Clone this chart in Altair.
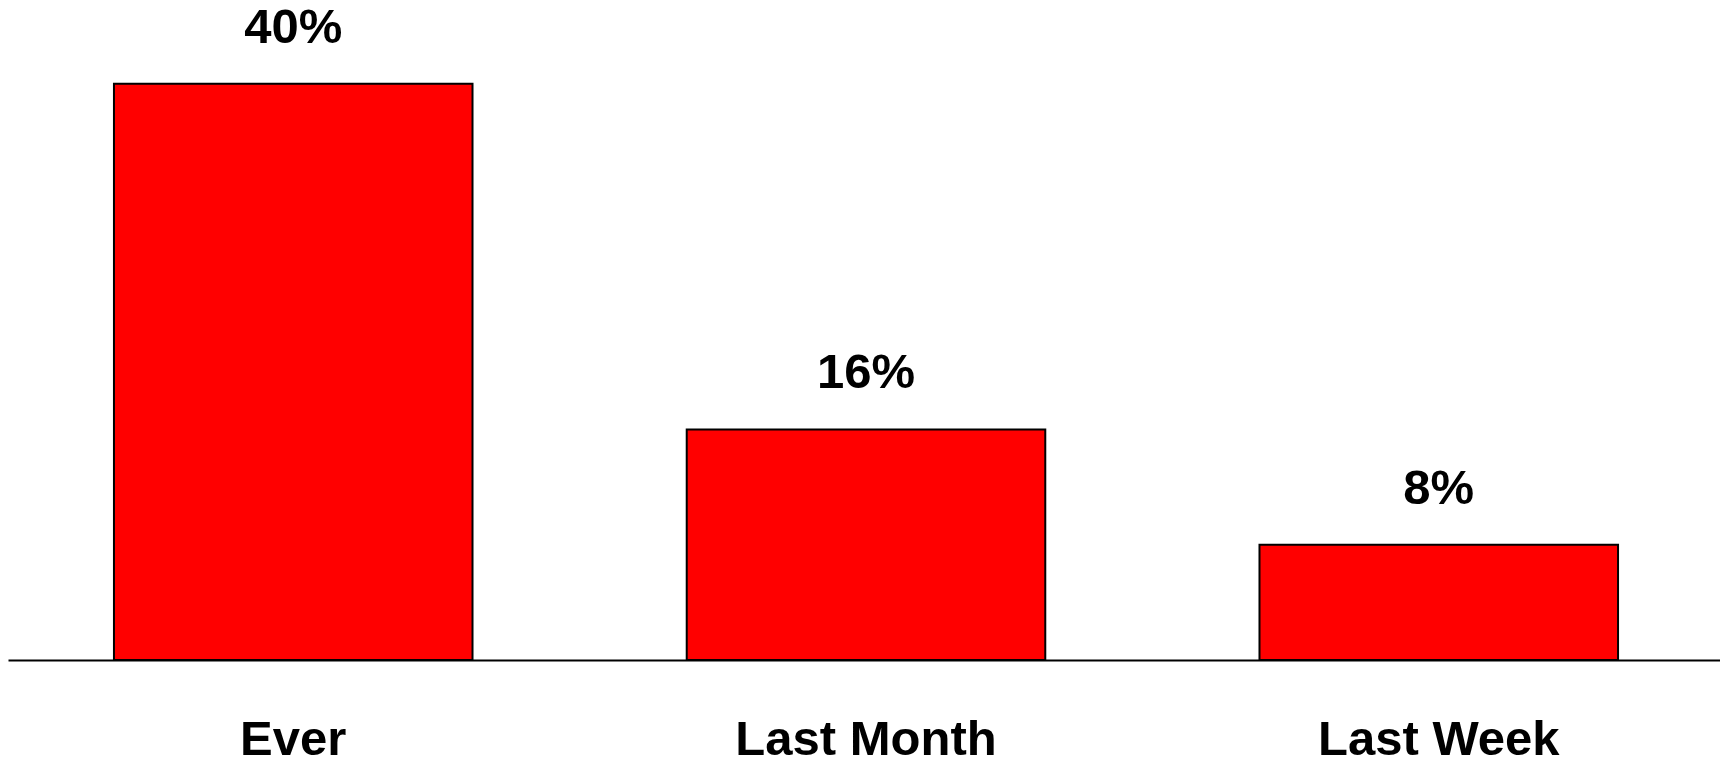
import altair as alt
import pandas as pd

categories = ["Ever", "Last Month", "Last Week"]
values = [40, 16, 8]
labels = ["40%", "16%", "8%"]

df = pd.DataFrame({"category": categories, "value": values, "label": labels})

FONT = "Liberation Sans"

x_scale = alt.Scale(paddingInner=0.374, paddingOuter=0.185, range=[0, 1716])

x = alt.X(
    "category:N",
    sort=categories,
    scale=x_scale,
    axis=alt.Axis(
        title=None,
        labelAngle=0,
        ticks=False,
        tickSize=0,
        domain=True,
        domainColor="black",
        domainWidth=2,
        labelFont=FONT,
        labelFontSize=49,
        labelFontWeight="bold",
        labelColor="black",
        labelBaseline="alphabetic",
        labelPadding=94,
        labelLimit=0,
        grid=False,
    ),
)
y = alt.Y(
    "value:Q",
    scale=alt.Scale(domain=[0, 45.25], nice=False, zero=True),
    axis=None,
)

bars = alt.Chart(df).mark_bar(
    color="#FF0000", stroke="black", strokeWidth=2
).encode(x=x, y=y)

text = alt.Chart(df).mark_text(
    font=FONT, fontSize=49, fontWeight="bold", color="black",
    baseline="alphabetic", dy=-41
).encode(x=alt.X("category:N", sort=categories), y=y, text="label:N")

chart = (
    alt.layer(bars, text)
    .properties(
        width=1712,
        height=652,
        autosize=alt.AutoSizeParams(type="none"),
        padding={"left": 0, "top": 0, "right": 0, "bottom": 95},
    )
    .configure_view(stroke=None)
)

chart.save("out.html", embed_options={"renderer": "svg", "actions": False})
